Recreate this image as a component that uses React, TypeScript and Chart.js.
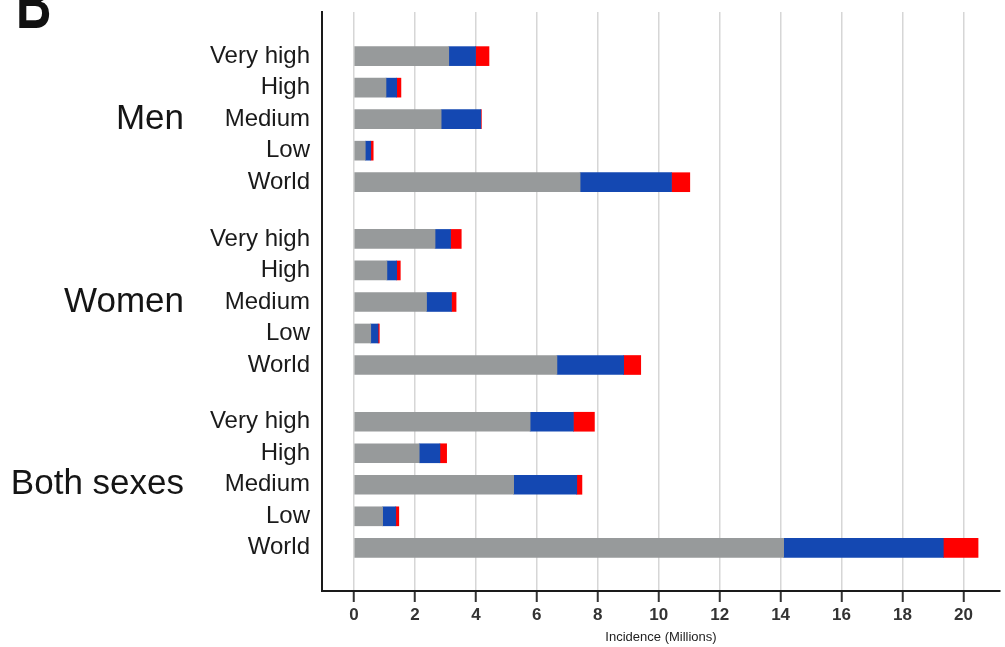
import React, { useEffect, useRef } from 'react';
import { Chart, registerables } from 'chart.js';

Chart.register(...registerables);

const levels = ['Very high', 'High', 'Medium', 'Low', 'World'];
const groups = ['Men', 'Women', 'Both sexes'];
// Segment lengths (millions), in order: Men x5, Women x5, Both sexes x5
const grayValues = [3.11, 1.05, 2.86, 0.37, 7.42, 2.66, 1.08, 2.38, 0.55, 6.66, 5.78, 2.14, 5.24, 0.94, 14.1];
const blueValues = [0.88, 0.35, 1.3, 0.18, 3.0, 0.51, 0.32, 0.82, 0.24, 2.19, 1.42, 0.68, 2.07, 0.43, 5.24];
const redValues = [0.44, 0.14, 0.02, 0.08, 0.6, 0.35, 0.12, 0.15, 0.04, 0.56, 0.69, 0.22, 0.17, 0.1, 1.14];
const xTickValues = [0, 2, 4, 6, 8, 10, 12, 14, 16, 18, 20];
const xTitle = 'Incidence (Millions)';
const panelLetter = 'B';

const FONT = "'Liberation Sans', Arial, Helvetica, sans-serif";
const GROUP_GAP = 0.8;

export default function App() {
  const ref = useRef<HTMLCanvasElement | null>(null);

  useEffect(() => {
    if (!ref.current) return;
    const positions: number[] = [];
    const labels: string[] = [];
    groups.forEach((g, gi) => {
      levels.forEach((l, li) => {
        positions.push(gi * (levels.length + GROUP_GAP) + li);
        labels.push(l);
      });
    });
    const labelAt = (v: number) => {
      const idx = positions.findIndex((p) => Math.abs(p - v) < 1e-6);
      return idx >= 0 ? labels[idx] : '';
    };
    const mk = (vals: number[]) => vals.map((v, i) => ({ x: v, y: positions[i] }));

    const extras = {
      id: 'extras',
      afterDraw(chart: any) {
        const ctx = chart.ctx;
        const y = chart.scales.y;
        ctx.save();
        ctx.fillStyle = '#151515';
        ctx.font = `35px ${FONT}`;
        ctx.textAlign = 'right';
        ctx.textBaseline = 'middle';
        groups.forEach((g, gi) => {
          const mid = gi * (levels.length + GROUP_GAP) + (levels.length - 1) / 2;
          ctx.fillText(g, 184, y.getPixelForValue(mid));
        });
        ctx.restore();
        ctx.save();
        ctx.font = `bold 72px ${FONT}`;
        ctx.textAlign = 'left';
        ctx.textBaseline = 'alphabetic';
        ctx.fillStyle = '#111';
        ctx.translate(16, 28);
        ctx.scale(0.68, 1);
        ctx.fillText(panelLetter, 0, 0);
        ctx.restore();
      },
    };

    const chart = new Chart(ref.current, {
      type: 'bar',
      data: {
        datasets: [
          { label: 'gray', data: mk(grayValues), backgroundColor: '#979a9b', barThickness: 19 },
          { label: 'blue', data: mk(blueValues), backgroundColor: '#1448b2', barThickness: 19 },
          { label: 'red', data: mk(redValues), backgroundColor: '#ff0000', barThickness: 19 },
        ] as any,
      },
      options: {
        indexAxis: 'y',
        animation: false,
        responsive: false,
        maintainAspectRatio: false,
        layout: { padding: { top: 12, right: 5, left: 0, bottom: 0 } },
        plugins: { legend: { display: false }, tooltip: { enabled: false } },
        scales: {
          x: {
            type: 'linear',
            stacked: true,
            min: -1.05,
            max: 21.2,
            afterBuildTicks: (scale: any) => {
              scale.ticks = xTickValues.map((v) => ({ value: v }));
            },
            afterFit: (scale: any) => {
              scale.height = 56;
            },
            grid: {
              color: '#d6d6d6',
              lineWidth: 1.5,
              tickColor: '#333',
              tickLength: 11,
              tickWidth: 2,
            },
            border: { display: true, color: '#1a1a1a', width: 2 },
            ticks: {
              color: '#333',
              font: { family: FONT, size: 17, weight: 'bold' },
              padding: 3,
              autoSkip: false,
              maxRotation: 0,
            },
            title: {
              display: true,
              text: xTitle,
              color: '#222',
              font: { family: FONT, size: 13 },
              padding: { top: 0, bottom: 2 },
            },
          },
          y: {
            type: 'linear',
            stacked: true,
            reverse: true,
            offset: false,
            min: -1.4,
            max: 16.97,
            afterBuildTicks: (scale: any) => {
              scale.ticks = positions.map((v) => ({ value: v }));
            },
            afterFit: (scale: any) => {
              scale.width = 322;
              scale.paddingTop = 0;
              scale.paddingBottom = 0;
            },
            grid: { display: false, drawTicks: false, offset: false },
            border: { display: true, color: '#1a1a1a', width: 2 },
            ticks: {
              color: '#1a1a1a',
              font: { family: FONT, size: 24 },
              padding: 12,
              autoSkip: false,
              callback: (v: any) => labelAt(Number(v)),
            },
          },
        },
      } as any,
      plugins: [extras],
    });
    return () => chart.destroy();
  }, []);

  return (
    <div style={{ position: 'fixed', left: 0, top: 0, width: 1005, height: 647, background: '#fff' }}>
      <canvas ref={ref} width={1005} height={647} style={{ width: 1005, height: 647, display: 'block' }} />
    </div>
  );
}
